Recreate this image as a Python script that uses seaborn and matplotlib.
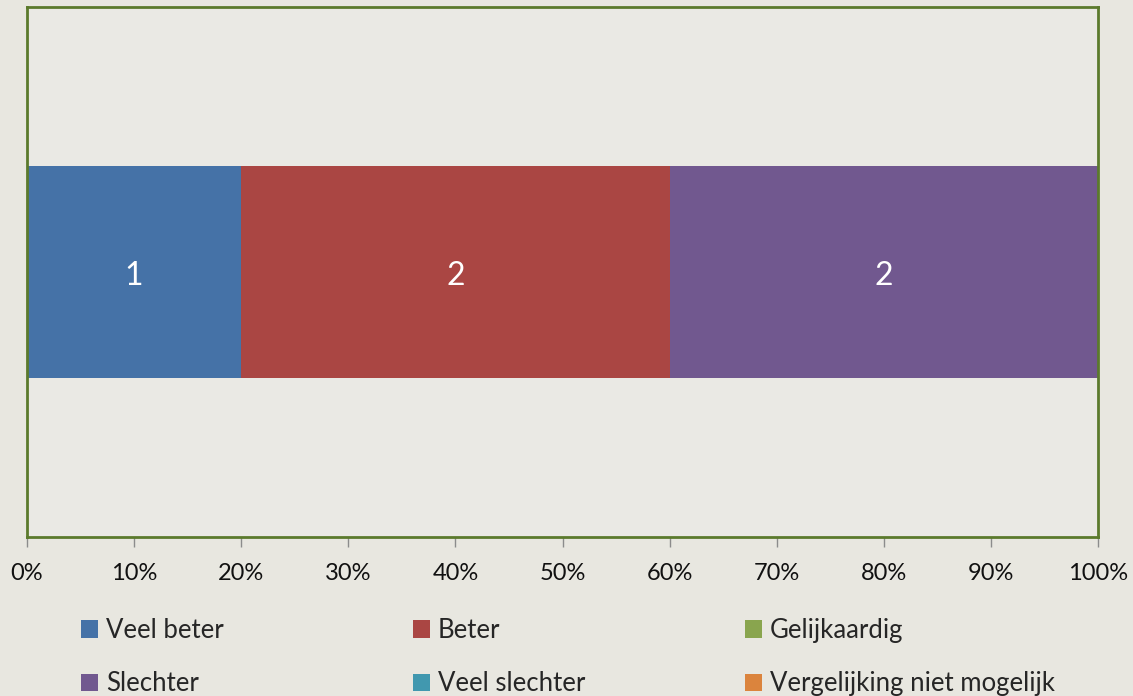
import matplotlib.pyplot as plt
import seaborn as sns
import pandas as pd
import numpy as np
from matplotlib.patches import Patch

# Gegevens
categories = ["Veel beter", "Beter", "Gelijkaardig", "Slechter", "Veel slechter", "Vergelijking niet mogelijk"]
counts = [1, 2, 0, 2, 0, 0]
colors = ["#4572a7", "#aa4643", "#89a54e", "#71588f", "#4198af", "#db843d"]
tick_labels = ["0%", "10%", "20%", "30%", "40%", "50%", "60%", "70%", "80%", "90%", "100%"]

sns.set_theme(style="white")
plt.rcParams['font.family'] = ['Lato', 'DejaVu Sans']

total = sum(counts)
pct = np.array(counts) / total * 100
cum = np.cumsum(pct)
df = pd.DataFrame({"cat": categories, "n": counts, "pct": pct, "cum": cum, "row": [""] * len(counts)})

bg = "#e8e7e0"
fig = plt.figure(figsize=(11.33, 6.96), dpi=100, facecolor=bg)
ax = fig.add_axes([27 / 1133, 1 - 537 / 696, (1098 - 27) / 1133, 530 / 696])
ax.set_facecolor("#eae9e4")

# gestapelde balk: cumulatief tekenen, van achter naar voor
for i in reversed(range(len(df))):
    sns.barplot(data=df.iloc[[i]], x="cum", y="row", color=colors[i], width=0.4,
                saturation=1, ax=ax, orient="h", edgecolor="none")

# labels in segmenten
for i, r in df.iterrows():
    if r["n"] > 0:
        ax.text(r["cum"] - r["pct"] / 2, 0.002, f"{r['n']}", ha="center", va="center_baseline",
                color="white", fontsize=23)

ax.set_xlim(0, 100)
ax.set_ylim(0.5, -0.5)
ax.set_xticks(np.arange(0, 101, 10))
ax.set_xticklabels(tick_labels, fontsize=17, color="#111111")
ax.set_yticks([])
ax.set_xlabel("")
ax.set_ylabel("")
ax.tick_params(axis="x", direction="out", length=7, width=1, color="#8c8c8c", pad=12, bottom=True)
for s in ax.spines.values():
    s.set_visible(True)
    s.set_color("#5b7a2c")
    s.set_linewidth(2)

# legenda: drie kolommen, rij voor rij
col_x = [81, 413, 745]
for c in range(3):
    idx = [c, c + 3]
    handles = [Patch(facecolor=colors[j], edgecolor="none") for j in idx]
    fig.legend(handles, [categories[j] for j in idx], loc="upper left",
               bbox_to_anchor=(col_x[c] / 1133, 1 - 618 / 696), frameon=False,
               fontsize=18.5, handlelength=0.67, handleheight=0.67, handletextpad=0.3,
               labelspacing=1.1, borderpad=0, borderaxespad=0)

fig.savefig("out.png", dpi=100, facecolor=bg)
